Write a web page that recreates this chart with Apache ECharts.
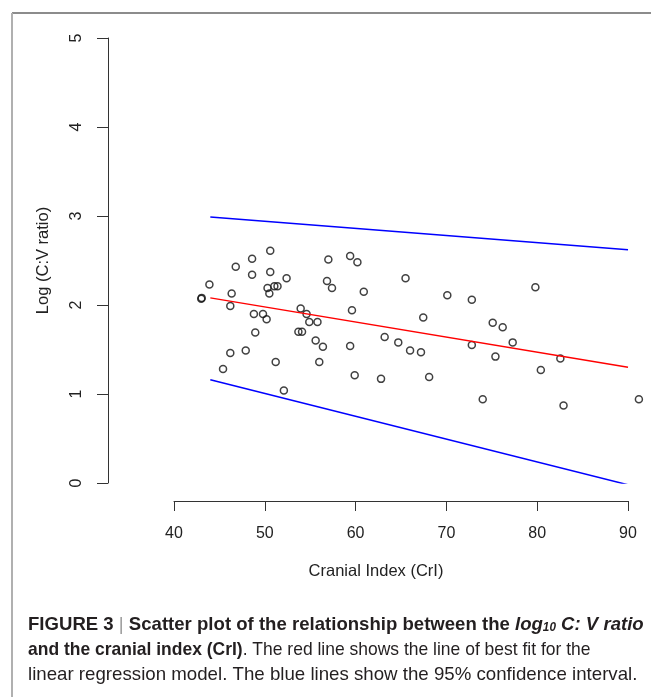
<!DOCTYPE html>
<html>
<head>
<meta charset="utf-8">
<script src="https://cdn.jsdelivr.net/npm/echarts@6/dist/echarts.min.js"></script>
<style>
  html, body { margin: 0; padding: 0; background: #fff; }
  #main { width: 651px; height: 697px; }
</style>
</head>
<body>
<div id="main"></div>
<script>
// cranial index (x) and log10 C:V ratio (y)
const crI = [
  43.0, 43.05, 43.9, 46.8, 48.6, 50.6, 48.6, 50.6, 52.4, 46.35,
  46.2, 50.3, 51.05, 51.4, 50.5, 48.8, 49.8, 50.2, 48.95, 46.2,
  47.9, 45.4, 51.2, 52.1, 57.0, 59.4, 60.2, 56.85, 57.4, 60.9,
  65.5, 53.95, 54.6, 54.9, 55.8, 59.6, 53.7, 54.1, 55.6, 56.4,
  59.4, 56.0, 63.2, 64.7, 59.9, 62.8, 70.1, 72.8, 67.45, 75.1,
  76.2, 66.0, 67.2, 72.8, 77.3, 75.4, 68.1, 74.0, 79.8, 82.55,
  80.4, 82.9, 91.2
];
const logCV = [
  2.07, 2.08, 2.23, 2.43, 2.52, 2.61, 2.34, 2.37, 2.30, 2.13,
  1.99, 2.19, 2.21, 2.21, 2.13, 1.90, 1.90, 1.84, 1.69, 1.46,
  1.49, 1.28, 1.36, 1.04, 2.51, 2.55, 2.48, 2.27, 2.19, 2.15,
  2.30, 1.96, 1.90, 1.81, 1.81, 1.94, 1.70, 1.70, 1.60, 1.53,
  1.54, 1.36, 1.64, 1.58, 1.21, 1.17, 2.11, 2.06, 1.86, 1.80,
  1.75, 1.49, 1.47, 1.55, 1.58, 1.42, 1.19, 0.94, 2.20, 1.40,
  1.27, 0.87, 0.94
];
// regression line and 95% bounds
const lineX = [44, 90];
const fitY = [2.08, 1.30];
const upperY = [2.99, 2.62];
const lowerY = [1.16, -0.02];

const zip = (xs, ys) => xs.map((x, i) => [x, ys[i]]);

const chart = echarts.init(document.getElementById('main'));
const axisFont = 'Liberation Sans, Arial, sans-serif';
const capFont = 'Liberation Sans, Arial, sans-serif';

const option = {
  animation: false,
  backgroundColor: '#fff',
  grid: { left: 174, right: 23, top: 38, bottom: 214 },
  xAxis: {
    type: 'value',
    min: 40,
    max: 90,
    interval: 10,
    offset: 18,
    name: 'Cranial Index (CrI)',
    nameLocation: 'middle',
    nameGap: 62,
    nameTextStyle: { fontFamily: axisFont, fontSize: 16.5, color: '#222', padding: [0, 50, 0, 0] },
    axisLine: { onZero: false, lineStyle: { color: '#333', width: 1 } },
    axisTick: { length: 10, lineStyle: { color: '#333', width: 1 } },
    axisLabel: { margin: 25, fontFamily: axisFont, fontSize: 16, color: '#222' },
    splitLine: { show: false }
  },
  yAxis: {
    type: 'value',
    min: 0,
    max: 5,
    interval: 1,
    offset: 66,
    name: 'Log (C:V ratio)',
    nameLocation: 'middle',
    nameRotate: 90,
    nameGap: 56,
    nameTextStyle: { fontFamily: axisFont, fontSize: 16.5, color: '#222' },
    axisLine: { show: true, onZero: false, lineStyle: { color: '#333', width: 1 } },
    axisTick: { show: true, length: 11, lineStyle: { color: '#333', width: 1 } },
    axisLabel: { rotate: 90, margin: 23, fontFamily: axisFont, fontSize: 16, color: '#222' },
    splitLine: { show: false }
  },
  series: [
    {
      type: 'scatter',
      data: zip(crI, logCV),
      symbol: 'circle',
      symbolSize: 7,
      clip: false,
      silent: true,
      itemStyle: { color: 'rgba(0,0,0,0)', borderColor: '#111', borderWidth: 1.5 }
    },
    {
      type: 'line',
      data: zip(lineX, fitY),
      symbol: 'none',
      silent: true,
      lineStyle: { color: '#ff0000', width: 1.5 }
    },
    {
      type: 'line',
      data: zip(lineX, upperY),
      symbol: 'none',
      silent: true,
      lineStyle: { color: '#0000ff', width: 1.5 }
    },
    {
      type: 'line',
      data: zip(lineX, lowerY),
      symbol: 'none',
      silent: true,
      lineStyle: { color: '#0000ff', width: 1.5 }
    }
  ],
  graphic: [
    // frame
    { type: 'line', shape: { x1: 12, y1: 13, x2: 651, y2: 13 }, style: { stroke: '#8c8c8c', lineWidth: 2 } },
    { type: 'line', shape: { x1: 12, y1: 13, x2: 12, y2: 697 }, style: { stroke: '#b0b0b0', lineWidth: 2 } },
    // caption
    {
      type: 'text', x: 28, y: 615, scaleX: 0.978,
      style: {
        text: '{b|FIGURE 3 }{sep|| }{b|Scatter plot of the relationship between the }{bi|log}{sub|10}{bi| C: V ratio}',
        fill: '#231f20',
        rich: {
          b: { fontFamily: capFont, fontSize: 19, fontWeight: 'bold', fill: '#231f20' },
          bi: { fontFamily: capFont, fontSize: 19, fontWeight: 'bold', fontStyle: 'italic', fill: '#231f20' },
          sub: { fontFamily: capFont, fontSize: 12, fontWeight: 'bold', fontStyle: 'italic', fill: '#231f20', padding: [7, 0, 0, 0] },
          sep: { fontFamily: capFont, fontSize: 19, fill: '#999' }
        }
      }
    },
    {
      type: 'text', x: 28, y: 640, scaleX: 0.92,
      style: {
        text: '{b|and the cranial index (CrI)}{n|. The red line shows the line of best fit for the}',
        rich: {
          b: { fontFamily: capFont, fontSize: 19, fontWeight: 'bold', fill: '#231f20' },
          n: { fontFamily: capFont, fontSize: 19, fill: '#231f20' }
        }
      }
    },
    {
      type: 'text', x: 28, y: 665, scaleX: 0.983,
      style: {
        text: 'linear regression model. The blue lines show the 95% confidence interval.',
        fontFamily: capFont, fontSize: 19, fill: '#231f20'
      }
    }
  ]
};

chart.setOption(option);
</script>
</body>
</html>
